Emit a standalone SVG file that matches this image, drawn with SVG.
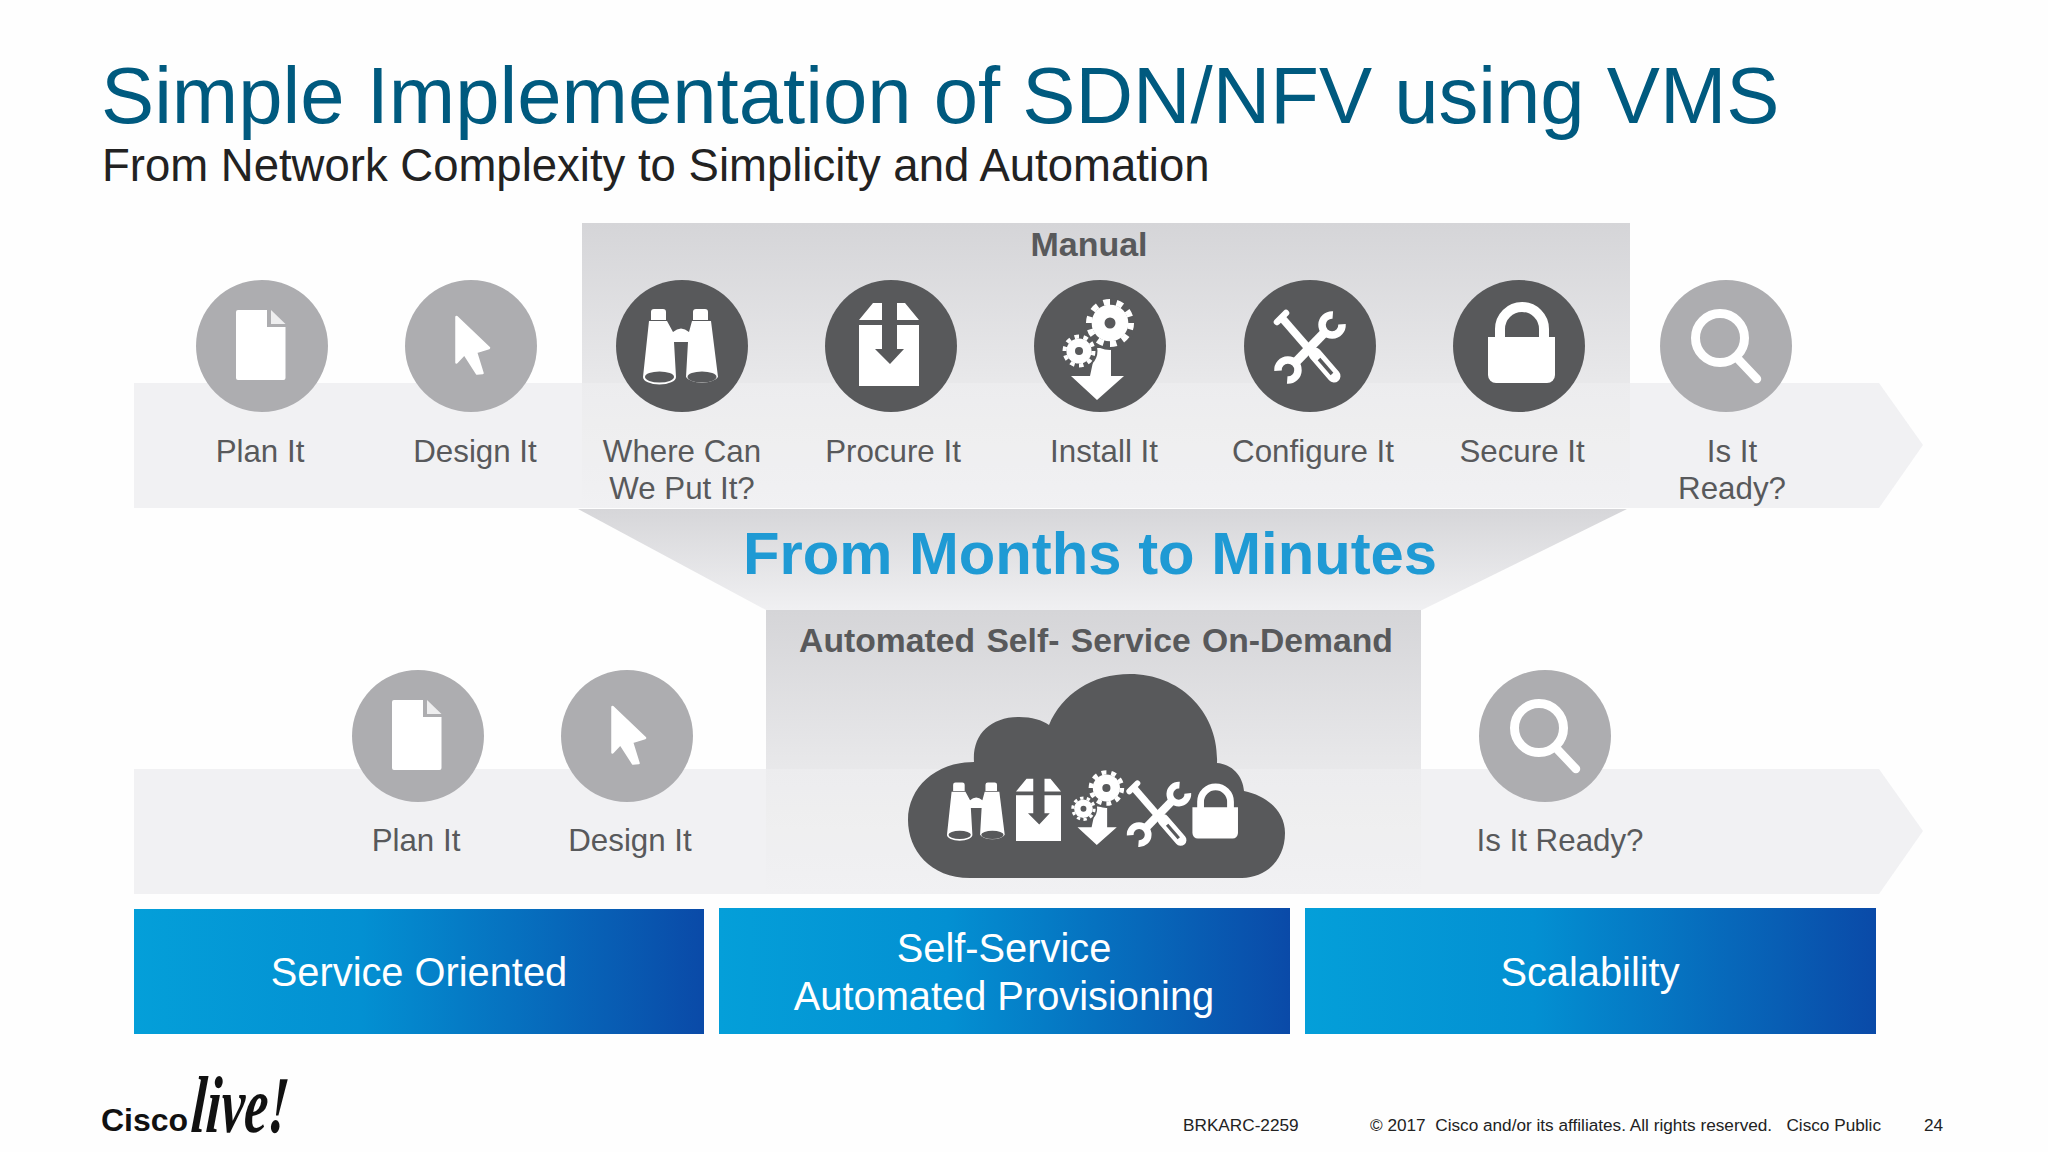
<svg xmlns="http://www.w3.org/2000/svg" xmlns:xlink="http://www.w3.org/1999/xlink" width="2048" height="1152" viewBox="0 0 2048 1152">
<style>
text{font-family:"Liberation Sans",Arial,sans-serif}
.lbl{font-size:31.3px;fill:#58595b;text-anchor:middle}
.hd{font-weight:700;fill:#58595b;text-anchor:middle}
.box{font-size:39.8px;fill:#fff;text-anchor:middle}
.foot{font-size:17.2px;fill:#222}
.band{fill:#f1f1f3}
.lt{fill:#adadb0}
.dk{fill:#58595b}
.w{fill:#fff}
.hole{fill:#58595b}
</style>
<defs>
<linearGradient id="gTop" x1="0" y1="0" x2="0" y2="1"><stop offset="0" stop-color="#d5d5d8"/><stop offset=".55" stop-color="#e8e8ea"/><stop offset="1" stop-color="#eeeef0"/></linearGradient>
<linearGradient id="gFun" x1="0" y1="0" x2="0" y2="1"><stop offset="0" stop-color="#d6d6d9"/><stop offset="1" stop-color="#f0f0f2"/></linearGradient>
<linearGradient id="gBlue" x1="0" y1="0" x2="1" y2="0"><stop offset="0" stop-color="#049fd9"/><stop offset="0.4" stop-color="#0390d2"/><stop offset="1" stop-color="#0a4aa8"/></linearGradient>
<g id="i-doc"><path class="w" d="M-26,-34a2,2 0 0 1 2,-2H5V-19H23.5V32a2,2 0 0 1 -2,2H-24a2,2 0 0 1 -2,-2Z"/><path fill="#eeeeef" d="M9,-36L23.5,-22H9Z"/></g>
<g id="i-cur"><path class="w" stroke="#fff" stroke-width="2.5" stroke-linejoin="round" d="M-14.5,-29L18,2L5,6L11.5,27L6,27.5L-6.5,8L-14.5,16.5Z"/></g>
<g id="i-mag"><circle cx="-6" cy="-8" r="24.5" fill="none" stroke="#fff" stroke-width="9"/><path d="M13,14L31,33" stroke="#fff" stroke-width="8.5" stroke-linecap="round" fill="none"/></g>
<g id="i-bin"><path class="w" d="M-31,-34q0,-3 3,-3h9q3,0 3,3v8h-15ZM11,-34q0,-3 3,-3h9q3,0 3,3v8h-15Z"/><path class="w" d="M-34,-25H-16L-10,-14Q-2,-21 6,-14L9,-25H28L35,31A16.5,7.5 0 0 1 3,31L5,-4H-9L-7,31A16.5,7.5 0 0 1 -40,31Z" transform="translate(1,0)"/><ellipse class="hole" cx="-22.5" cy="31" rx="14.5" ry="5.5"/><ellipse class="hole" cx="20" cy="31" rx="14.5" ry="5.5"/></g>
<g id="i-box"><path class="w" d="M-32,-26L-18,-43H-9V-26ZM6,-43H14L28,-26H6ZM-32,-21H-9V3H-16L-1,18L13,3H6V-21H28V40H-32Z"/></g>
<g id="gear"><circle class="w" r="17"/><circle r="19.5" fill="none" stroke="#fff" stroke-width="5.5" pathLength="20" stroke-dasharray="1 1"/></g>
<g id="i-gears"><path class="w" d="M-4,2H11V30H24L-3,54L-29,30H-10Z"/><circle class="hole" cx="10" cy="-22" r="26"/><use xlink:href="#gear" transform="translate(10,-23) scale(1.08)"/><circle class="hole" cx="10" cy="-23" r="5.5"/><circle class="hole" cx="-21" cy="5" r="18.5"/><use xlink:href="#gear" transform="translate(-21,5) scale(.74)"/><circle class="hole" cx="-21" cy="5" r="4"/></g>
<g id="i-tool" fill="none" stroke="#fff"><path stroke-width="8" d="M-28,-28L5,10"/><path stroke-width="6.5" stroke-linecap="round" d="M-33,-24L-24,-33"/><path stroke-width="13" stroke-linecap="round" d="M5,8L24,30"/><path stroke="#58595b" stroke-width="3.5" d="M9,13L22,28"/><path stroke-width="9" d="M-17,19L17,-16"/><path stroke-width="7.5" d="M22.8,-31A10,10 0 1 0 32,-21.8"/><path stroke-width="7.5" d="M-22.8,34A10,10 0 1 0 -32,24.8"/></g>
<g id="i-lock"><path fill="none" stroke="#fff" stroke-width="10" d="M-19,-7V-17A22,22 0 0 1 25,-17V-7"/><path class="w" d="M-31,-9H36V29a8,8 0 0 1 -8,8H-23a8,8 0 0 1 -8,-8Z"/></g>
</defs>
<rect width="2048" height="1152" fill="#fefefe"/>
<g id="title">
<text x="101" y="123" font-size="79.7" fill="#005a7f">Simple Implementation of SDN/NFV using VMS</text>
<text x="102" y="180.5" font-size="45.5" fill="#222">From Network Complexity to Simplicity and Automation</text>
</g>
<g id="connectors">
<path class="band" d="M134,383H1879L1923,445L1879,508H134Z"/>
<path class="band" d="M134,769H1879L1923,831L1879,894H134Z"/>
</g>
<g id="manual-panel">
<rect x="582" y="223" width="1048" height="285" fill="url(#gTop)"/>
<rect x="582" y="383" width="1048" height="125" fill="#fff" opacity=".2"/>
<path d="M578,509H1627L1422,610H766Z" fill="url(#gFun)"/>
<text class="hd" x="1089" y="256" font-size="34">Manual</text>
</g>
<g id="auto-panel">
<rect x="766" y="610" width="655" height="284" fill="url(#gTop)"/>
<rect x="766" y="769" width="655" height="125" fill="#fff" opacity=".2"/>
<text class="hd" x="1096" y="652" font-size="33.7" word-spacing="2">Automated Self- Service On-Demand</text>
</g>
<text id="headline" x="1090" y="574" font-size="59.8" font-weight="700" fill="#1f9ad4" text-anchor="middle">From Months to Minutes</text>
<g id="plan-it"><circle class="lt" cx="262" cy="346" r="66"/><use xlink:href="#i-doc" x="262" y="346"/><text class="lbl" x="260" y="461.5">Plan It</text></g>
<g id="design-it"><circle class="lt" cx="471" cy="346" r="66"/><use xlink:href="#i-cur" x="471" y="346"/><text class="lbl" x="475" y="461.5">Design It</text></g>
<g id="where-can"><circle class="dk" cx="682" cy="346" r="66"/><use xlink:href="#i-bin" x="682" y="346"/><text class="lbl" x="682" y="461.5">Where Can</text><text class="lbl" x="682" y="499">We Put It?</text></g>
<g id="procure-it"><circle class="dk" cx="891" cy="346" r="66"/><use xlink:href="#i-box" x="891" y="346"/><text class="lbl" x="893" y="461.5">Procure It</text></g>
<g id="install-it"><circle class="dk" cx="1100" cy="346" r="66"/><use xlink:href="#i-gears" x="1100" y="346"/><text class="lbl" x="1104" y="461.5">Install It</text></g>
<g id="configure-it"><circle class="dk" cx="1310" cy="346" r="66"/><use xlink:href="#i-tool" x="1310" y="346"/><text class="lbl" x="1313" y="461.5">Configure It</text></g>
<g id="secure-it"><circle class="dk" cx="1519" cy="346" r="66"/><use xlink:href="#i-lock" x="1519" y="346"/><text class="lbl" x="1522" y="461.5">Secure It</text></g>
<g id="is-it-ready"><circle class="lt" cx="1726" cy="346" r="66"/><use xlink:href="#i-mag" x="1726" y="346"/><text class="lbl" x="1732" y="461.5">Is It</text><text class="lbl" x="1732" y="499">Ready?</text></g>
<g id="plan-it-2"><circle class="lt" cx="418" cy="736" r="66"/><use xlink:href="#i-doc" x="418" y="736"/><text class="lbl" x="416" y="851">Plan It</text></g>
<g id="design-it-2"><circle class="lt" cx="627" cy="736" r="66"/><use xlink:href="#i-cur" x="627" y="736"/><text class="lbl" x="630" y="851">Design It</text></g>
<g id="is-it-ready-2"><circle class="lt" cx="1545" cy="736" r="66"/><use xlink:href="#i-mag" x="1545" y="736"/><text class="lbl" x="1560" y="851">Is It Ready?</text></g>
<g id="cloud">
<path class="dk" d="M970,878C930,878 908,850 908,820C908,788 935,762 974,762C972,735 990,717 1019,717C1032,717 1042,720 1049,725C1062,694 1092,674 1130,674C1180,674 1219,712 1217,763C1232,764 1243,776 1244,791C1268,796 1285,812 1285,833C1285,860 1266,878 1242,878Z"/>
<use xlink:href="#i-bin" transform="translate(977,811) scale(.77)"/>
<use xlink:href="#i-box" transform="translate(1040,811) scale(.75)"/>
<use xlink:href="#i-gears" transform="translate(1099,805) scale(.74)"/>
<use xlink:href="#i-tool" transform="translate(1159,813) scale(.9)"/>
<use xlink:href="#i-lock" transform="translate(1213.5,813.4) scale(.68)"/>
</g>
<g id="service-oriented"><rect x="134" y="909" width="570" height="125" fill="url(#gBlue)"/><text class="box" x="419" y="986">Service Oriented</text></g>
<g id="self-service"><rect x="719" y="908" width="571" height="126" fill="url(#gBlue)"/><text class="box" x="1004" y="962">Self-Service</text><text class="box" x="1004" y="1010">Automated Provisioning</text></g>
<g id="scalability"><rect x="1305" y="908" width="571" height="126" fill="url(#gBlue)"/><text class="box" x="1590" y="986">Scalability</text></g>
<g id="logo">
<text x="101" y="1131" font-size="32" font-weight="700" fill="#111">Cisco</text>
<text transform="translate(190,1132) scale(1.02,1.55) skewX(-6)" font-size="52" font-weight="700" font-style="italic" fill="#111" style="font-family:'Liberation Serif',serif">live!</text>
</g>
<g id="footer">
<text class="foot" x="1183" y="1131">BRKARC-2259</text>
<text class="foot" x="1370" y="1131" xml:space="preserve">© 2017  Cisco and/or its affiliates. All rights reserved.   Cisco Public</text>
<text class="foot" x="1924" y="1131">24</text>
</g>
</svg>
